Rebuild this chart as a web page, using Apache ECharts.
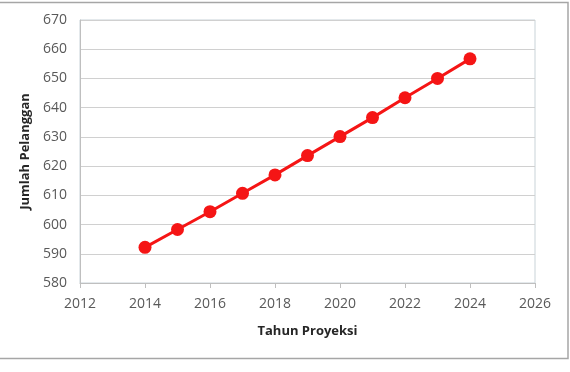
<!DOCTYPE html>
<html><head><meta charset="utf-8">
<script src="https://cdn.jsdelivr.net/npm/echarts@6/dist/echarts.min.js"></script>
<style>html,body{margin:0;padding:0;background:#fff}#c{width:570px;height:372px}</style>
</head><body><div id="c"></div>
<script>
const years = [2014, 2015, 2016, 2017, 2018, 2019, 2020, 2021, 2022, 2023, 2024];
const pelanggan = [592.2, 598.3, 604.4, 610.7, 617.0, 623.6, 630.1, 636.6, 643.4, 650.0, 656.7];
const xTitle = 'Tahun Proyeksi';
const yTitle = 'Jumlah Pelanggan';

const chart = echarts.init(document.getElementById('c'), null, {renderer: 'canvas'});
chart.setOption({
  animation: false,
  backgroundColor: '#fff',
  graphic: [{type: 'rect', shape: {x: -1, y: 2.5, width: 569, height: 356}, style: {fill: 'none', stroke: '#a6a6a6', lineWidth: 1.5}, silent: true}],
  grid: {left: 80, right: 35, top: 20, bottom: 89, show: true, borderColor: '#c9d3d8', borderWidth: 1},
  xAxis: {
    type: 'value', min: 2012, max: 2026, interval: 2,
    name: xTitle, nameLocation: 'middle', nameGap: 42,
    nameTextStyle: {fontFamily: 'Open Sans', fontWeight: 'bold', fontSize: 13, color: '#262626'},
    axisLine: {show: true, lineStyle: {color: '#bfbfbf'}},
    axisTick: {show: true, length: 5, lineStyle: {color: '#bfbfbf'}},
    axisLabel: {fontFamily: 'Open Sans', fontSize: 14, color: '#595959', margin: 14, formatter: v => String(v)},
    splitLine: {show: false}
  },
  yAxis: {
    type: 'value', min: 580, max: 670, interval: 10,
    name: yTitle, nameLocation: 'middle', nameGap: 47, nameRotate: 90,
    nameTextStyle: {fontFamily: 'Open Sans', fontWeight: 'bold', fontSize: 13, color: '#262626'},
    axisLine: {show: true, lineStyle: {color: '#bfbfbf'}},
    axisTick: {show: false},
    axisLabel: {fontFamily: 'Open Sans', fontSize: 14, color: '#595959', margin: 13, formatter: v => String(v)},
    splitLine: {show: true, lineStyle: {color: '#d0d0d0', width: 1}}
  },
  series: [{
    type: 'line',
    data: years.map((y, i) => [y, pelanggan[i]]),
    symbol: 'circle', symbolSize: 13,
    lineStyle: {color: '#f51515', width: 3},
    itemStyle: {color: '#f51515'}
  }]
});
</script></body></html>
